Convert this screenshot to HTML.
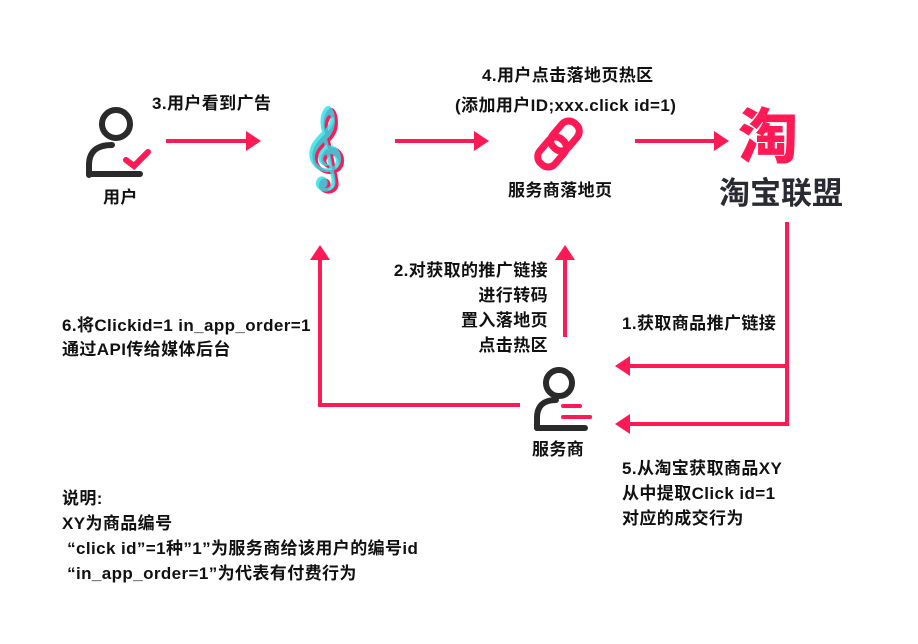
<!DOCTYPE html>
<html><head><meta charset="utf-8"><style>
body{margin:0;background:#fff;}
.w{position:relative;width:918px;height:644px;overflow:hidden;font-family:"Liberation Sans","Noto Sans CJK SC",sans-serif;font-weight:bold;color:#111;font-size:17px;letter-spacing:0.4px;}
.t{position:absolute;white-space:nowrap;line-height:25px;}
</style></head><body><div class="w">
<svg width="918" height="644" style="position:absolute;left:0;top:0">
<g stroke="#ff1a55" stroke-width="4" fill="none">
<line x1="166" y1="141" x2="248" y2="141"/>
<line x1="395" y1="141" x2="476" y2="141"/>
<line x1="635" y1="141" x2="716" y2="141"/>
<polyline points="787,222 787,424 628,424"/>
<line x1="787" y1="366" x2="628" y2="366"/>
<line x1="565" y1="337" x2="565" y2="258"/>
<polyline points="520,405 320,405 320,258"/>
</g>
<g fill="#ff1a55">
<polygon points="246,131 261,141 246,151"/>
<polygon points="474,131 489,141 474,151"/>
<polygon points="714,131 729,141 714,151"/>
<polygon points="630,356 615,366 630,376"/>
<polygon points="630,414 615,424 630,434"/>
<polygon points="555,260 565,245 575,260"/>
<polygon points="310,260 320,245 330,260"/>
</g>
<g stroke="#2a2a2a" stroke-width="6" fill="none" stroke-linecap="round">
<circle cx="116" cy="124" r="14"/>
<path d="M89,175 L89,165 Q89,145 112,145"/>
<line x1="89" y1="174" x2="140" y2="174"/>
</g>
<polyline points="126,160 134,166 148,152" stroke="#ff1a55" stroke-width="6" fill="none" stroke-linecap="round"/>
<text x="305" y="172" font-size="70" fill="#ff1a55" font-family="DejaVu Sans">𝄞</text>
<text x="302" y="170" font-size="70" fill="#25e0e8" font-family="DejaVu Sans" opacity="0.8">𝄞</text>
<g stroke="#ff1a55" stroke-width="7" fill="none">
<rect x="555" y="120" width="20" height="32" rx="9" transform="rotate(40 565 136)"/>
<rect x="542" y="136" width="20" height="32" rx="9" transform="rotate(40 552 152)"/>
</g>
<g stroke="#2a2a2a" stroke-width="6" fill="none" stroke-linecap="round">
<circle cx="559" cy="383" r="13"/>
<path d="M537,428 L537,418 Q537,400 556,400"/>
<line x1="537" y1="428" x2="585" y2="428"/>
</g>
<g stroke="#ff1a55" stroke-width="4" stroke-linecap="round">
<line x1="563" y1="406" x2="580" y2="406"/>
<line x1="563" y1="417" x2="590" y2="417"/>
</g>
</svg>
<div class="t" style="left:152px;top:91px">3.用户看到广告</div>
<div class="t" style="left:103px;top:185px">用户</div>
<div class="t" style="left:482px;top:63px">4.用户点击落地页热区</div>
<div class="t" style="left:455px;top:93px">(添加用户ID;xxx.click id=1)</div>
<div class="t" style="left:508px;top:178px">服务商落地页</div>
<div class="t" style="left:738px;top:106px;font-size:60px;line-height:64px;color:#ff1a55;font-weight:900">淘</div>
<div class="t" style="left:719px;top:176px;font-size:31px;line-height:36px;color:#2a2a33;letter-spacing:0">淘宝联盟</div>
<div class="t" style="left:340px;top:258px;text-align:right;width:208px;line-height:25px;white-space:normal">2.对获取的推广链接<br>进行转码<br>置入落地页<br>点击热区</div>
<div class="t" style="left:62px;top:314px;line-height:24px">6.将Clickid=1 in_app_order=1<br>通过API传给媒体后台</div>
<div class="t" style="left:622px;top:311px">1.获取商品推广链接</div>
<div class="t" style="left:532px;top:437px">服务商</div>
<div class="t" style="left:622px;top:456px">5.从淘宝获取商品XY<br>从中提取Click id=1<br>对应的成交行为</div>
<div class="t" style="left:62px;top:486px">说明:<br>XY为商品编号<br>&nbsp;“click id”=1种”1”为服务商给该用户的编号id<br>&nbsp;“in_app_order=1”为代表有付费行为</div>
</div></body></html>
